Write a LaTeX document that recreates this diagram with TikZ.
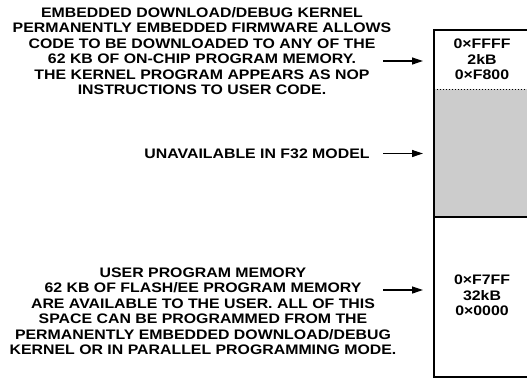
\documentclass[tikz,border=0pt]{standalone}
\usepackage{fontspec}
\setmainfont{Liberation Sans}[FakeStretch=1.15]
\usetikzlibrary{arrows.meta}
\definecolor{memgray}{gray}{0.8}
\tikzset{
  memtext/.style={font=\bfseries\fontsize{13.8}{15.5}\selectfont,align=center,inner sep=0pt,anchor=base},
  pointer/.style={line width=1.2pt,-{Triangle[length=11pt,width=7pt]}},
  memline/.style={line width=1.4pt},
}
\begin{document}
\begin{tikzpicture}[x=1pt,y=-1pt]
                \useasboundingbox (0,0) rectangle (527,383);
                \clip (0,0) rectangle (527,383);

                \coordinate (MapTop) at (434,30);
                \coordinate (MapBottom) at (434,377);
                \coordinate (KernelEnd) at (434,89);
                \coordinate (GapEnd) at (434,217);

                % memory map
                \fill[memgray] (KernelEnd) rectangle (545,217);
                \draw[memline] (545,30)--(MapTop)--(MapBottom)--(545,377);
                \draw[dotted,line width=1pt] (KernelEnd)--(545,89);
                \draw[memline] (GapEnd)--(545,217);

                % base anchor = last line
                \node[memtext] (kernelrange) at (482,79.8) {0×FFFF\\2kB\\0×F800};
                \node[memtext] (userrange) at (482,315.8) {0×F7FF\\32kB\\0×0000};

                % descriptions
                \node[memtext] (kernel) at (202,94.8) {EMBEDDED DOWNLOAD/DEBUG KERNEL\\PERMANENTLY EMBEDDED FIRMWARE ALLOWS\\CODE TO BE DOWNLOADED TO ANY OF THE\\62 KB OF ON-CHIP PROGRAM MEMORY.\\THE KERNEL PROGRAM APPEARS AS NOP\\INSTRUCTIONS TO USER CODE.};
                \node[memtext] (unavail) at (257,158.3) {UNAVAILABLE IN F32 MODEL};
                \node[memtext] (user) at (203,354.8) {USER PROGRAM MEMORY\\62 KB OF FLASH/EE PROGRAM MEMORY\\ARE AVAILABLE TO THE USER. ALL OF THIS\\SPACE CAN BE PROGRAMMED FROM THE\\PERMANENTLY EMBEDDED DOWNLOAD/DEBUG\\KERNEL OR IN PARALLEL PROGRAMMING MODE.};

                \coordinate (KernelTail) at (383,61);
                \coordinate (KernelHead) at (423,61);
                \coordinate (UnavailTail) at (383,153.5);
                \coordinate (UnavailHead) at (423,153.5);
                \coordinate (UserTail) at (383,290);
                \coordinate (UserHead) at (423,290);

                \draw[pointer] (KernelTail)--(KernelHead);
                \draw[pointer] (UnavailTail)--(UnavailHead);
                \draw[pointer] (UserTail)--(UserHead);
            \end{tikzpicture}
\end{document}
